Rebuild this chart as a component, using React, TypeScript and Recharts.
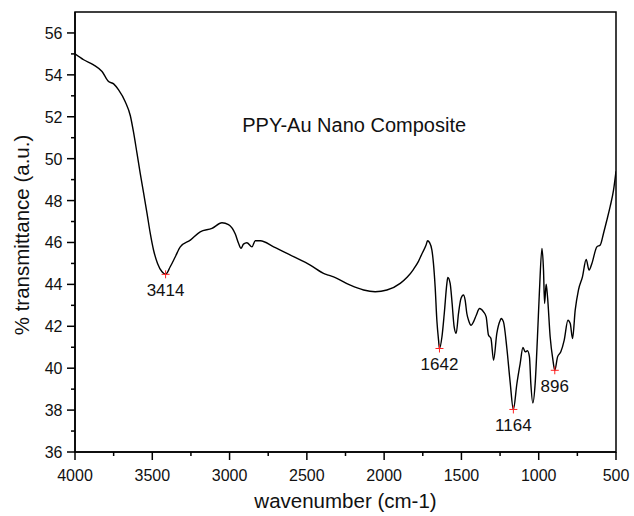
import React from 'react';
import {
  ComposedChart,
  Line,
  Scatter,
  XAxis,
  YAxis,
  ReferenceArea,
  ReferenceDot,
  Label,
} from 'recharts';

const FONT = '"Liberation Sans", Arial, Helvetica, sans-serif';

// FTIR spectrum of the PPY-Au nano composite (wavenumber in cm-1, % transmittance)
const wavenumber = [
  4000, 3944, 3880, 3825, 3783, 3750, 3718, 3675, 3642, 3621, 3599, 3578, 3556, 3534, 3513,
  3492, 3466, 3437, 3414, 3384, 3351, 3319, 3254, 3190, 3114, 3049, 3007, 2963, 2942, 2926,
  2910, 2888, 2855, 2834, 2801, 2715, 2586, 2478, 2381, 2360, 2327, 2219, 2133, 2058, 1982,
  1896, 1850, 1810, 1778, 1756, 1730, 1719, 1706, 1691, 1681, 1670, 1659, 1648, 1642, 1626, 1611,
  1594, 1588, 1573, 1562, 1547, 1534, 1519, 1503, 1487, 1476, 1465, 1454, 1437, 1422, 1404,
  1383, 1357, 1340, 1325, 1309, 1292, 1271, 1249, 1243, 1228, 1206, 1185, 1164, 1141, 1120,
  1102, 1087, 1073, 1060, 1051, 1038, 1023, 1008, 995, 979, 969, 962, 952, 943, 926,
  908, 896, 878, 857, 835, 811, 796, 781, 764, 743, 717, 693, 674, 656, 624,
  602, 581, 559, 538, 516, 500,
];
const transmittance = [
  55.0, 54.72, 54.48, 54.16, 53.68, 53.57, 53.28, 52.72, 52.05, 51.25, 50.26, 49.3, 48.35, 47.39, 46.43,
  45.64, 45.0, 44.6, 44.48, 44.84, 45.32, 45.79, 46.11, 46.51, 46.67, 46.94, 46.85, 46.4, 45.96, 45.72,
  45.92, 45.99, 45.79, 46.08, 46.08, 45.79, 45.32, 44.92, 44.49, 44.44, 44.36, 43.96, 43.73, 43.65, 43.73,
  44.05, 44.35, 44.72, 45.1, 45.45, 45.85, 46.08, 45.99, 45.64, 45.0, 43.88, 42.29, 41.34, 40.94, 41.5, 42.61,
  44.05, 44.33, 44.05, 43.25, 41.97, 41.66, 42.61, 43.33, 43.49, 43.25, 42.61, 42.29, 42.05, 42.21, 42.53,
  42.85, 42.69, 42.45, 41.58, 41.42, 40.38, 41.66, 42.29, 42.37, 42.21, 40.94, 39.35, 38.03, 39.27, 40.22,
  40.99, 40.78, 40.83, 40.54, 39.27, 38.34, 39.27, 41.5, 43.73, 45.72, 44.68, 43.09, 44.01, 43.41, 41.5,
  40.38, 39.9, 40.54, 40.78, 41.34, 42.29, 42.13, 41.42, 42.77, 43.73, 44.36, 45.19, 44.68, 45.0, 45.79,
  45.88, 46.43, 47.07, 47.71, 48.5, 49.4,
];

// Labelled absorption bands
const peakWavenumber = [3414, 1642, 1164, 896];
const peakTransmittance = [44.48, 40.94, 38.03, 39.9];

const xTicks = [4000, 3750, 3500, 3250, 3000, 2750, 2500, 2250, 2000, 1750, 1500, 1250, 1000, 750, 500];
const yTicks = [36, 37, 38, 39, 40, 41, 42, 43, 44, 45, 46, 47, 48, 49, 50, 51, 52, 53, 54, 55, 56];

const sampleName = 'PPY-Au Nano Composite';
const sampleNameAt = { wn: 2918, t: 51.27 };

const spectrum = wavenumber.map((wn, i) => ({ wn, t: transmittance[i] }));
const peaks = peakWavenumber.map((wn, i) => ({ wn, t: peakTransmittance[i] }));

function XTick(props: any) {
  const { x, y, payload } = props;
  const major = payload.value % 500 === 0;
  return (
    <g>
      <line x1={x} x2={x} y1={y} y2={y + (major ? 8 : 4)} stroke="#000" strokeWidth={1.5} />
      {major && (
        <text x={x} y={y + 28.5} textAnchor="middle" fontSize={16} fontFamily={FONT} fill="#111">
          {payload.value}
        </text>
      )}
    </g>
  );
}

function YTick(props: any) {
  const { x, y, payload } = props;
  const major = payload.value % 2 === 0;
  return (
    <g>
      <line x1={x} x2={x - (major ? 8 : 4)} y1={y} y2={y} stroke="#000" strokeWidth={1.5} />
      {major && (
        <text x={x - 12.5} y={y + 6} textAnchor="end" fontSize={16} fontFamily={FONT} fill="#111">
          {payload.value}
        </text>
      )}
    </g>
  );
}

function PeakMark(props: any) {
  const { cx, cy, payload } = props;
  return (
    <g>
      <line x1={cx - 4} x2={cx + 4} y1={cy} y2={cy} stroke="#ff2020" strokeWidth={1} />
      <line x1={cx} x2={cx} y1={cy - 4} y2={cy + 4} stroke="#ff2020" strokeWidth={1} />
      <text x={cx} y={cy + 22} textAnchor="middle" fontSize={17} fontFamily={FONT} fill="#111">
        {payload.wn}
      </text>
    </g>
  );
}

export default function App() {
  return (
    <div style={{ position: 'absolute', left: 0, top: 0, background: '#fff' }}>
      <ComposedChart width={634} height={516} margin={{ top: 12, right: 18, bottom: 0, left: 0 }}>
        <XAxis
          dataKey="wn"
          type="number"
          domain={[500, 4000]}
          reversed
          ticks={xTicks}
          interval={0}
          tickSize={0}
          tickMargin={0}
          tick={<XTick />}
          height={64}
          stroke="#000"
          strokeWidth={1.5}
          allowDataOverflow
        >
          <Label
            content={(p: any) => {
              const vb = p.viewBox;
              return (
                <text
                  x={vb.x + vb.width / 2}
                  y={vb.y + 56}
                  textAnchor="middle"
                  fontSize={20.5}
                  fontFamily={FONT}
                  fill="#111"
                >
                  wavenumber (cm-1)
                </text>
              );
            }}
          />
        </XAxis>
        <YAxis
          type="number"
          domain={[36, 57]}
          ticks={yTicks}
          interval={0}
          tickSize={0}
          tickMargin={0}
          tick={<YTick />}
          width={75}
          stroke="#000"
          strokeWidth={1.5}
          allowDataOverflow
        >
          <Label
            content={(p: any) => {
              const vb = p.viewBox;
              const cx = 29;
              const cy = vb.y + vb.height / 2 + 3;
              return (
                <text
                  x={cx}
                  y={cy}
                  transform={`rotate(-90 ${cx} ${cy})`}
                  textAnchor="middle"
                  fontSize={20.5}
                  fontFamily={FONT}
                  fill="#111"
                >
                  % transmittance (a.u.)
                </text>
              );
            }}
          />
        </YAxis>
        <ReferenceArea
          x1={4000}
          x2={500}
          y1={36}
          y2={57}
          fill="none"
          stroke="#000"
          strokeWidth={1.5}
          fillOpacity={0}
        />
        <Line
          data={spectrum}
          dataKey="t"
          type="monotone"
          stroke="#000"
          strokeWidth={1.4}
          dot={false}
          activeDot={false}
          isAnimationActive={false}
        />
        <Scatter data={peaks} dataKey="t" shape={<PeakMark />} isAnimationActive={false} />
        <ReferenceDot
          x={sampleNameAt.wn}
          y={sampleNameAt.t}
          r={0}
          fill="none"
          stroke="none"
          label={{
            content: (p: any) => {
              const vb = p.viewBox;
              return (
                <text x={vb.x} y={vb.y} textAnchor="start" fontSize={20} fontFamily={FONT} fill="#111">
                  {sampleName}
                </text>
              );
            },
          }}
        />
      </ComposedChart>
    </div>
  );
}
